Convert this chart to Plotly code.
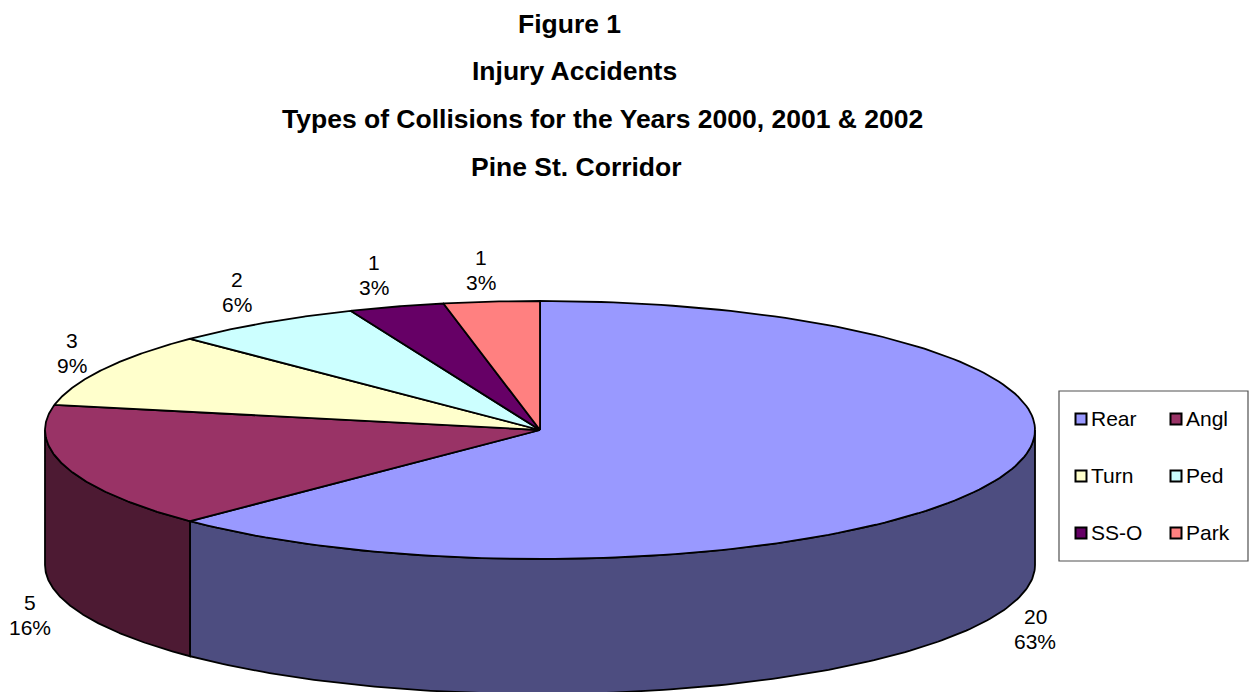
import numpy as np
import plotly.graph_objects as go

categories = ["Rear", "Angl", "Turn", "Ped", "SS-O", "Park"]
values = [20, 5, 3, 2, 1, 1]
percent_labels = ["63%", "16%", "9%", "6%", "3%", "3%"]
top_colors = ["#9999FF", "#993366", "#FFFFCC", "#CCFFFF", "#660066", "#FF8080"]
side_colors = ["#4D4D80", "#4D1A33", "#80805F", "#668080", "#330033", "#804040"]
title_lines = ["Figure 1", "Injury Accidents",
               "Types of Collisions for the Years 2000, 2001 & 2002", "Pine St. Corridor"]
title_x = [569, 574, 602, 576]
title_y = [24, 71, 119, 167]
label_x = [1035, 30, 72, 237, 374, 481]
label_y = [629, 615, 353, 292, 275, 270]
legend_x = [1081, 1176]
legend_y = [419, 476, 533]

CX, CY, RX, RY, DEPTH = 540, 430, 495, 129, 135
FONT = "Liberation Sans, Arial, sans-serif"
LW = 1.8

fractions = np.cumsum([0] + values) / sum(values)
edges = fractions * 2 * np.pi


def rim(a, b, n=160):
    t = np.linspace(a, b, n)
    return CX + RX * np.sin(t), CY - RY * np.cos(t)


fig = go.Figure()

# Side walls: only the part of each slice facing the viewer (angle pi/2 .. 3pi/2)
for i, c in enumerate(categories):
    a, b = max(edges[i], np.pi / 2), min(edges[i + 1], 3 * np.pi / 2)
    if b <= a:
        continue
    x, y = rim(a, b)
    fig.add_trace(go.Scatter(
        x=np.r_[x, x[::-1], x[0]], y=np.r_[y, y[::-1] + DEPTH, y[0]],
        mode="lines", fill="toself", fillcolor=side_colors[i],
        line=dict(color="black", width=LW), showlegend=False, hoverinfo="skip"))

# Top faces
for i, c in enumerate(categories):
    x, y = rim(edges[i], edges[i + 1])
    fig.add_trace(go.Scatter(
        x=np.r_[CX, x, CX], y=np.r_[CY, y, CY], name=c,
        mode="lines", fill="toself", fillcolor=top_colors[i],
        line=dict(color="black", width=LW), showlegend=False,
        text=f"{c}: {values[i]} ({percent_labels[i]})", hoverinfo="text"))

# Legend
lx, ly = [], []
for r in legend_y:
    for q in legend_x:
        lx.append(q)
        ly.append(r)
fig.add_trace(go.Scatter(
    x=lx, y=ly, mode="markers",
    marker=dict(symbol="square", size=11, color=top_colors, line=dict(color="black", width=2)),
    showlegend=False, hoverinfo="skip"))
fig.add_trace(go.Scatter(
    x=[q + 10 for q in lx], y=[r + 2 for r in ly], mode="text", text=categories,
    textposition="middle right", textfont=dict(family=FONT, size=21, color="black"),
    showlegend=False, hoverinfo="skip"))

annotations = []
for t, x, y in zip(title_lines, title_x, title_y):
    annotations.append(dict(x=x, y=y, text=f"<b>{t}</b>", showarrow=False, xanchor="center",
                            yanchor="middle", font=dict(family=FONT, size=26.5, color="black")))
for v, p, x, y in zip(values, percent_labels, label_x, label_y):
    for s, dy in ((str(v), -12.5), (p, 12.5)):
        annotations.append(dict(x=x, y=y + dy, text=s, showarrow=False, xanchor="center",
                                yanchor="middle", font=dict(family=FONT, size=21, color="black")))

fig.update_layout(
    width=1252, height=692, margin=dict(l=0, r=0, t=0, b=0),
    paper_bgcolor="white", plot_bgcolor="white", showlegend=False,
    xaxis=dict(range=[0, 1252], visible=False, fixedrange=True),
    yaxis=dict(range=[692, 0], visible=False, fixedrange=True),
    annotations=annotations,
    shapes=[dict(type="rect", x0=1059, x1=1248, y0=391, y1=561, layer="below",
                 line=dict(color="#505050", width=1.2), fillcolor="white")],
)
fig.write_html("out.html", config=dict(displayModeBar=False),
               post_script="document.body.style.margin='0';document.documentElement.style.overflow='hidden';")
